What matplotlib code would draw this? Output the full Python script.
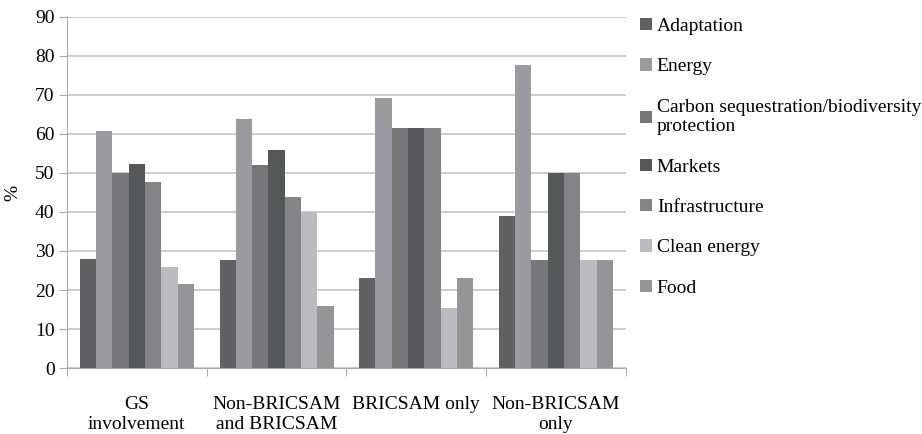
import numpy as np
import matplotlib.pyplot as plt

plt.rcParams['font.family'] = 'serif'
plt.rcParams['font.serif'] = ['Liberation Serif', 'Times New Roman', 'DejaVu Serif']

categories = ["GS\ninvolvement", "Non-BRICSAM\nand BRICSAM", "BRICSAM only", "Non-BRICSAM\nonly"]
series = ["Adaptation", "Energy", "Carbon sequestration/biodiversity\nprotection",
          "Markets", "Infrastructure", "Clean energy", "Food"]

adaptation = [28.0, 27.7, 23.0, 38.9]
energy = [60.8, 63.8, 69.2, 77.8]
carbon = [50.0, 52.0, 61.5, 27.8]
markets = [52.2, 56.0, 61.5, 50.0]
infrastructure = [47.8, 43.8, 61.5, 50.0]
clean_energy = [26.0, 40.0, 15.4, 27.8]
food = [21.6, 16.0, 23.1, 27.8]

values = [adaptation, energy, carbon, markets, infrastructure, clean_energy, food]
colors = ["#616163", "#9b9b9f", "#77777a", "#565759", "#848487", "#bcbcc0", "#959598"]

fig = plt.figure(figsize=(9.22, 4.34), dpi=100)
ax = fig.add_axes([0.0727, 0.152, 0.606, 0.809])

x = np.arange(len(categories))
n = len(series)
width = 0.1167
for i, (name, vals, c) in enumerate(zip(series, values, colors)):
    ax.bar(x + (i - (n - 1) / 2) * width, vals, width, color=c, label=name, zorder=3)

ax.set_xlim(-0.5, len(categories) - 0.5)
ax.set_ylim(0, 90)
ax.set_yticks(range(0, 91, 10))
ax.yaxis.grid(True, color="#c4c4c4", linewidth=1.2, zorder=0)
ax.set_axisbelow(True)

ax.set_xticks(x)
ax.set_xticklabels(categories, fontsize=14, linespacing=1.25)
ax.set_xticks(np.arange(-0.5, len(categories), 1), minor=True)
ax.tick_params(axis="x", which="major", length=0, pad=20)
ax.tick_params(axis="x", which="minor", length=6, color="#999999", direction="out")
ax.tick_params(axis="y", length=6, color="#aaaaaa", labelsize=14, pad=3)

for s in ["top", "right"]:
    ax.spines[s].set_visible(False)
ax.spines["left"].set_color("#aaaaaa")
ax.spines["bottom"].set_color("#aaaaaa")
ax.set_ylabel("%", fontsize=14, labelpad=10)

ax.legend(loc="upper left", bbox_to_anchor=(1.012, 1.019), frameon=False, fontsize=14,
          handlelength=0.6, handleheight=0.6, handletextpad=0.25,
          labelspacing=1.2, borderaxespad=0.0)

fig.savefig("out.png", dpi=100)
